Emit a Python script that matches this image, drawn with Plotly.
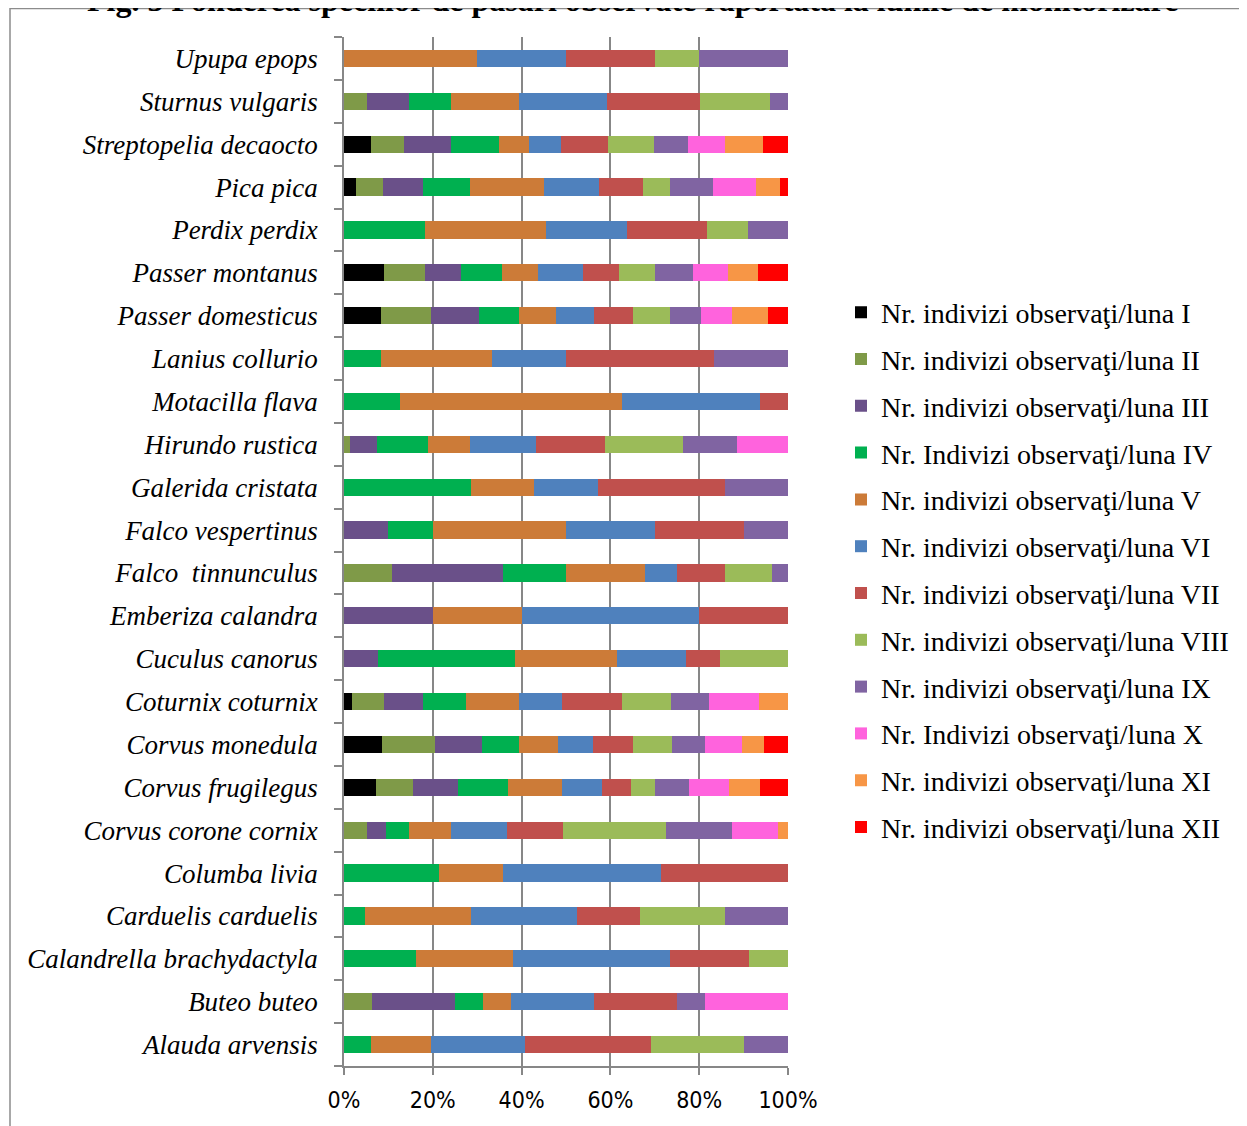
import plotly.graph_objects as go

species = [
    "Alauda arvensis", "Buteo buteo", "Calandrella brachydactyla", "Carduelis carduelis",
    "Columba livia", "Corvus corone cornix", "Corvus frugilegus", "Corvus monedula",
    "Coturnix coturnix", "Cuculus canorus", "Emberiza calandra", "Falco  tinnunculus",
    "Falco vespertinus", "Galerida cristata", "Hirundo rustica", "Motacilla flava",
    "Lanius collurio", "Passer domesticus", "Passer montanus", "Perdix perdix",
    "Pica pica", "Streptopelia decaocto", "Sturnus vulgaris", "Upupa epops",
]

month_names = [
    "Nr. indivizi observaţi/luna I", "Nr. indivizi observaţi/luna II",
    "Nr. indivizi observaţi/luna III", "Nr. Indivizi observaţi/luna IV",
    "Nr. indivizi observaţi/luna V", "Nr. indivizi observaţi/luna VI",
    "Nr. indivizi observaţi/luna VII", "Nr. indivizi observaţi/luna VIII",
    "Nr. indivizi observaţi/luna IX", "Nr. Indivizi observaţi/luna X",
    "Nr. indivizi observaţi/luna XI", "Nr. indivizi observaţi/luna XII",
]

# share per month (percent), species order as above (bottom to top)
luna_I = [0, 0, 0, 0, 0, 0, 7.2, 8.6, 1.7, 0, 0, 0, 0, 0, 0, 0, 0, 8.4, 8.9, 0, 2.6, 6.1, 0, 0]
luna_II = [0, 6.25, 0, 0, 0, 5.1, 8.4, 12.0, 7.3, 0, 0, 10.7, 0, 0, 1.3, 0, 0, 11.3, 9.4, 0, 6.2, 7.3, 5.1, 0]
luna_III = [0, 18.75, 0, 0, 0, 4.3, 10.0, 10.5, 8.7, 7.7, 20, 25.0, 10, 0, 6.1, 0, 0, 10.7, 8.0, 0, 8.9, 10.7, 9.5, 0]
luna_IV = [6.0, 6.25, 16.2, 4.8, 21.4, 5.3, 11.4, 8.4, 9.7, 30.8, 0, 14.3, 10, 28.6, 11.5, 12.5, 8.3, 9.0, 9.3, 18.2, 10.6, 10.7, 9.4, 0]
luna_V = [13.6, 6.25, 21.9, 23.8, 14.3, 9.4, 12.0, 8.8, 12.1, 23.1, 20, 17.9, 30, 14.3, 9.4, 50, 25, 8.3, 8.2, 27.3, 16.7, 6.8, 15.5, 30]
luna_VI = [21.1, 18.75, 35.4, 23.8, 35.7, 12.6, 9.0, 7.8, 9.7, 15.4, 40, 7.1, 20, 14.3, 14.9, 31.25, 16.7, 8.7, 10.0, 18.2, 12.4, 7.3, 19.7, 20]
luna_VII = [28.4, 18.75, 17.7, 14.3, 28.6, 12.7, 6.7, 8.9, 13.4, 7.7, 20, 10.7, 20, 28.6, 15.5, 6.25, 33.3, 8.7, 8.1, 18.2, 9.9, 10.6, 21.0, 20]
luna_VIII = [21.1, 0, 8.8, 19.0, 0, 23.2, 5.3, 8.8, 11.0, 15.4, 0, 10.7, 0, 0, 17.7, 0, 0, 8.4, 8.1, 9.1, 6.2, 10.3, 15.7, 10]
luna_IX = [9.8, 6.25, 0, 14.3, 0, 14.8, 7.7, 7.6, 8.7, 0, 0, 3.6, 10, 14.3, 12.1, 0, 16.7, 7.0, 8.6, 9.1, 9.7, 7.7, 4.1, 20]
luna_X = [0, 18.75, 0, 0, 0, 10.4, 9.0, 8.2, 11.2, 0, 0, 0, 0, 0, 11.5, 0, 0, 6.9, 7.9, 0, 9.7, 8.4, 0, 0]
luna_XI = [0, 0, 0, 0, 0, 2.2, 7.0, 5.1, 6.5, 0, 0, 0, 0, 0, 0, 0, 0, 8.2, 6.7, 0, 5.3, 8.5, 0, 0]
luna_XII = [0, 0, 0, 0, 0, 0, 6.3, 5.3, 0, 0, 0, 0, 0, 0, 0, 0, 0, 4.4, 6.8, 0, 1.8, 5.6, 0, 0]

series = [luna_I, luna_II, luna_III, luna_IV, luna_V, luna_VI,
          luna_VII, luna_VIII, luna_IX, luna_X, luna_XI, luna_XII]

colors = ["#000000", "#7F9A48", "#6A5089", "#00B050", "#CC7B38", "#4F81BD",
          "#C0504D", "#9BBB59", "#8064A2", "#FF63DD", "#F79646", "#FF0000"]

x_ticks = [0, 20, 40, 60, 80, 100]
x_tick_labels = ["0%", "20%", "40%", "60%", "80%", "100%"]

serif = "Liberation Serif, Times New Roman, serif"
narrow = "Liberation Sans Narrow, DejaVu Sans Condensed, Lato, sans-serif"

# figure sits 8px in from the page corner (body margin)
W, H = 1239, 1118
L, R, T, B = 336, 459, 29, 60
PW, PH = W - L - R, H - T - B


def px_x(x):
    return (x - L) / PW


def px_y(y):
    return 1 - (y - T) / PH


fig = go.Figure()
for i, (name, vals, col) in enumerate(zip(month_names, series, colors)):
    fig.add_trace(go.Bar(
        y=species, x=vals, name=name, orientation="h",
        marker=dict(color=col, line=dict(width=0)),
        legendgroup=f"g{i}",
    ))

fig.update_layout(
    width=W, height=H,
    barmode="stack", barnorm="percent", bargap=0.6,
    plot_bgcolor="white", paper_bgcolor="white",
    margin=dict(l=L, r=R, t=T, b=B),
    legend=dict(
        x=px_x(833), xanchor="left", y=px_y(562), yanchor="middle",
        font=dict(family=serif, size=28, color="#000000"),
        tracegroupgap=7.4, traceorder="grouped",
        bgcolor="rgba(0,0,0,0)",
    ),
    xaxis=dict(
        range=[0, 100], tickvals=x_ticks, ticktext=x_tick_labels,
        showgrid=True, gridcolor="#878787", gridwidth=1.5,
        showline=True, linecolor="#878787", linewidth=1.5,
        ticks="outside", ticklen=7, tickcolor="#878787", tickwidth=1.5,
        ticklabelstandoff=6,
        tickfont=dict(family=narrow, size=23, color="#000000"),
        zeroline=False, fixedrange=True,
    ),
    yaxis=dict(
        type="category", categoryorder="array", categoryarray=species,
        showline=True, linecolor="#878787", linewidth=1.5,
        ticks="outside", ticklen=8, tickcolor="#878787", tickwidth=1.5,
        tickson="boundaries", ticklabelstandoff=19,
        tickfont=dict(family=serif, size=27, color="#000000", style="italic"),
        showgrid=False, zeroline=False, fixedrange=True,
    ),
    showlegend=True,
)

# frame around chart
fig.add_shape(type="rect", xref="paper", yref="paper",
              x0=px_x(2), x1=px_x(1300), y0=px_y(1200), y1=px_y(0.5),
              line=dict(color="#8C8C8C", width=1.5), fillcolor="rgba(0,0,0,0)", layer="below")

# title, cut off at top of image
fig.add_annotation(
    text="Fig. 3 Ponderea speciilor de pasari observate raportata la lunile de monitorizare",
    xref="paper", yref="paper", x=px_x(624), y=px_y(12),
    xanchor="center", yanchor="bottom", showarrow=False,
    font=dict(family=serif, size=32, color="#000000", weight="bold"),
)

fig.write_html("out.html")
